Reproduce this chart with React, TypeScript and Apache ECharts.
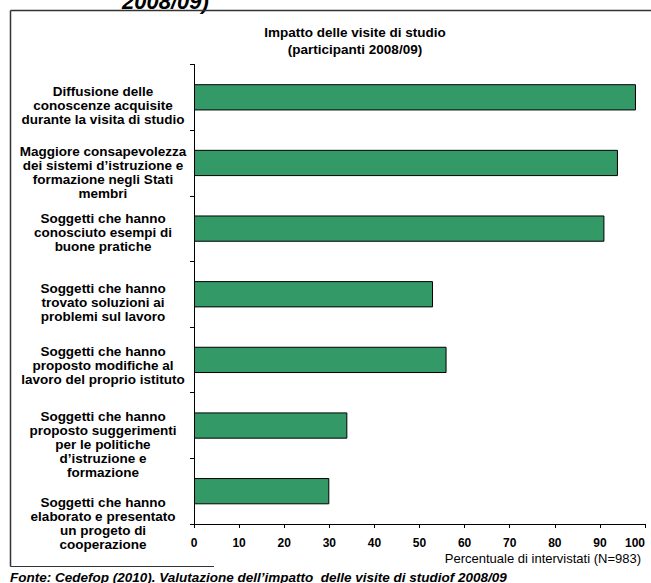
import React, { useEffect, useRef } from "react";
import * as echarts from "echarts";

// Survey items (top to bottom) and share of respondents, in %
const categories: string[] = [
  "Diffusione delle\nconoscenze acquisite\ndurante la visita di studio",
  "Maggiore consapevolezza\ndei sistemi d’istruzione e\nformazione negli Stati\nmembri",
  "Soggetti che hanno\nconosciuto esempi di\nbuone pratiche",
  "Soggetti che hanno\ntrovato soluzioni ai\nproblemi sul lavoro",
  "Soggetti che hanno\nproposto modifiche al\nlavoro del proprio istituto",
  "Soggetti che hanno\nproposto suggerimenti\nper le politiche\nd’istruzione e\nformazione",
  "Soggetti che hanno\nelaborato e presentato\nun progeto di\ncooperazione",
];
const values: number[] = [98, 94, 91, 53, 56, 34, 30];

const titleText = "Impatto delle visite di studio\n(participanti 2008/09)";
const axisTitle = "Percentuale di intervistati (N=983)";
const sourceNote = "Fonte: Cedefop (2010). Valutazione dell’impatto  delle visite di studiof 2008/09";
const headingTail = "2008/09)";

// Downward shift (px) of each wrapped category label relative to its band
const labelShift: number[] = [8, 10, 4, 8, 6, 19, 32];

const FONT = "Liberation Sans, Arial, sans-serif";

export default function App() {
  const ref = useRef<HTMLDivElement>(null);

  useEffect(() => {
    if (!ref.current) return;
    const chart = echarts.init(ref.current, undefined, { renderer: "svg" });

    // A leading spacer line of height 2*shift pushes a centred label down by shift
    const rich: Record<string, object> = {};
    labelShift.forEach((s, i) => {
      rich["sp" + i] = { fontSize: 1, lineHeight: s * 2 };
    });

    chart.setOption({
      animation: false,
      backgroundColor: "#ffffff",
      textStyle: { fontFamily: FONT },
      title: {
        text: titleText,
        left: 350,
        top: 19,
        textAlign: "center",
        textStyle: {
          fontFamily: FONT,
          fontSize: 13.5,
          fontWeight: "bold",
          color: "#000",
          lineHeight: 17,
        },
      },
      grid: {
        left: 194,
        right: 6,
        top: 64.5,
        bottom: 59,
        containLabel: false,
        outerBoundsMode: "none",
      },
      xAxis: {
        type: "value",
        min: 0,
        max: 100,
        interval: 10,
        splitLine: { show: false },
        axisLine: { show: true, lineStyle: { color: "#000", width: 1 } },
        axisTick: { show: true, length: 4, lineStyle: { color: "#000" } },
        axisLabel: {
          color: "#000",
          fontFamily: FONT,
          fontSize: 12,
          fontWeight: "bold",
          margin: 13,
          alignMaxLabel: "right",
        },
        name: axisTitle,
        nameLocation: "end",
        nameGap: -4,
        nameTextStyle: {
          fontFamily: FONT,
          fontSize: 13,
          color: "#000",
          align: "right",
          verticalAlign: "top",
          padding: [28, 0, 0, 0],
        },
      },
      yAxis: {
        type: "category",
        inverse: true,
        data: categories,
        axisLine: { show: true, lineStyle: { color: "#000", width: 1 } },
        axisTick: { show: true, length: 4, lineStyle: { color: "#000" } },
        axisLabel: {
          color: "#000",
          fontFamily: FONT,
          fontSize: 13.5,
          fontWeight: "bold",
          lineHeight: 14,
          align: "center",
          margin: 91,
          interval: 0,
          formatter: (value: string, index: number) =>
            `{sp${index}| }\n` + value,
          rich,
        },
      },
      series: [
        {
          type: "bar",
          data: values,
          barCategoryGap: "60%",
          itemStyle: { color: "#339966", borderColor: "#000", borderWidth: 1 },
        },
      ],
      graphic: [
        {
          type: "text",
          left: 122,
          top: -10,
          style: {
            text: headingTail,
            font: `italic bold 22px ${FONT}`,
            fill: "#000",
          },
        },
        {
          type: "line",
          shape: { x1: 10.5, y1: 10.5, x2: 651, y2: 10.5 },
          style: { stroke: "#333", lineWidth: 1.5 },
        },
        {
          type: "line",
          shape: { x1: 10.5, y1: 10.5, x2: 10.5, y2: 566.5 },
          style: { stroke: "#333", lineWidth: 1.5 },
        },
        {
          type: "line",
          shape: { x1: 10.5, y1: 566.5, x2: 214, y2: 566.5 },
          style: { stroke: "#333", lineWidth: 1 },
        },
        {
          type: "text",
          left: 10,
          top: 570,
          style: {
            text: sourceNote,
            font: `italic bold 13.5px ${FONT}`,
            fill: "#000",
          },
        },
      ],
    });

    return () => chart.dispose();
  }, []);

  return (
    <div
      ref={ref}
      style={{ position: "absolute", left: 0, top: 0, width: 651, height: 583 }}
    />
  );
}
